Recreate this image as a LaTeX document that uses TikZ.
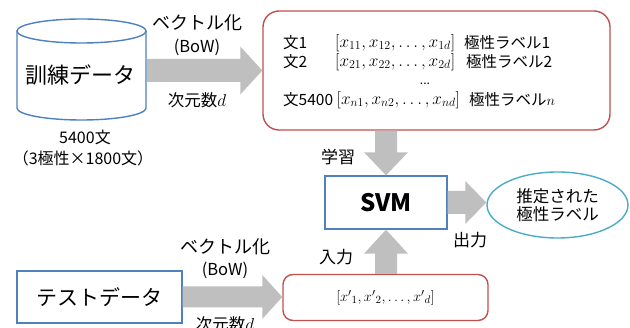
\documentclass[tikz,border=0pt]{standalone}
\usepackage{fontspec}
\setmainfont{Noto Sans CJK JP}
\usetikzlibrary{calc,shapes.geometric}
\definecolor{bblue}{HTML}{4F81BD}
\definecolor{rred}{HTML}{C0504D}
\definecolor{ccyan}{HTML}{4BACC6}
\definecolor{agray}{HTML}{BFBFBF}
\newcommand\blockarr[5]{% start, end, shaft half, head half, head length
  \coordinate (bh) at ($(#2)!#5!(#1)$);
  \fill[agray] ($(#1)!#3!90:(#2)$) -- ($(bh)!#3!90:(#2)$) -- ($(bh)!#4!90:(#2)$) -- (#2)
    -- ($(bh)!#4!-90:(#2)$) -- ($(bh)!#3!-90:(#2)$) -- ($(#1)!#3!-90:(#2)$) -- cycle;}
\newcommand\fs[1]{\fontsize{#1}{#1}\selectfont}
\begin{document}
\begin{tikzpicture}[x=1pt,y=-1pt,
  lbl/.style={inner sep=0pt,font=\fs{17}},
  rtext/.style={inner sep=0pt,anchor=west,font=\fs{15.5}},
  mtext/.style={inner sep=0pt,anchor=west,font=\fs{16.5}},
  bluebox/.style={draw=bblue,line width=1.4pt,minimum width=#1,inner sep=0pt},
  redbox/.style={draw=rred,line width=1.4pt,rounded corners=#1,inner sep=0pt}]
\useasboundingbox (0,0) rectangle (630,328);
% cylinder
\draw[bblue,line width=1.4pt,fill=white] (17,31) -- (17,108)
   arc[start angle=180,end angle=360,x radius=64.5pt,y radius=12pt] -- (146,31);
\draw[bblue,line width=1.4pt] (81.5,31) ellipse[x radius=64.5pt,y radius=12pt];
\node[inner sep=0pt,font=\fs{22}] (train) at (81,75) {訓練データ};
\coordinate (cylE) at (147,70.5);
\node[inner sep=0pt,font=\fs{16}] (n5400) at (85,137) {5400文};
\node[inner sep=0pt,font=\fs{16}] (n3pol) at (83,158) {（3極性×1800文）};
% top rect
\node[redbox=16pt,minimum width=347pt,minimum height=119pt] (toprect) at (436.5,70.5) {};
\node[rtext] (s1) at (283,43) {文1};
\node[mtext] (m1) at (335,43) {$[x_{11},x_{12},\ldots,x_{1d}]$};
\node[rtext] (p1) at (464,43) {極性ラベル1};
\node[rtext] (s2) at (283,62) {文2};
\node[mtext] (m2) at (335,62) {$[x_{21},x_{22},\ldots,x_{2d}]$};
\node[rtext] (p2) at (466,62) {極性ラベル2};
\node[inner sep=0pt,font=\fs{12}] (dots) at (425,84) {...};
\node[rtext] (s3) at (283,100) {文5400};
\node[mtext] (m3) at (336.5,100) {$[x_{n1},x_{n2},\ldots,x_{nd}]$};
\node[rtext] (p3) at (469,100) {極性ラベル$n$};
% arrow 1
\blockarr{cylE}{toprect.west}{11.5pt}{24pt}{22pt}
\node[lbl,font=\fs{18}] (v1) at (197,23) {ベクトル化};
\node[lbl,font=\fs{16.5}] (b1) at (197,47) {(BoW)};
\node[lbl,font=\fs{16.5}] (d1) at (197,100) {次元数$d$};
% SVM
\node[bluebox=122pt,minimum height=53pt,font=\fs{24}\bfseries] (svm) at (386,202.5) {SVM};
\blockarr{svm.north |- toprect.south}{svm.north}{11pt}{22pt}{23pt}
\node[lbl] (learn) at (338,157) {学習};
% ellipse
\node[ellipse,draw=ccyan,line width=1.4pt,minimum width=141pt,minimum height=66pt,inner sep=0pt,
  align=center,font=\fs{16.5}] (ell) at (557.5,205) {推定された\\[1pt]極性ラベル};
\blockarr{svm.east}{svm.east -| ell.west}{11.5pt}{21.5pt}{21pt}
\node[lbl] (out) at (470,240) {出力};
% bottom
\node[bluebox=165pt,minimum height=52pt,font=\fs{21}] (test) at (99.5,297) {テストデータ};
\node[redbox=10pt,minimum width=205pt,minimum height=46pt,font=\fs{15.5}] (botrect) at (385.5,297.5)
  {$[{x'}_1,{x'}_2,\ldots,{x'}_d]$};
\blockarr{test.east}{test.east -| botrect.west}{10.5pt}{22pt}{20pt}
\node[lbl,font=\fs{18}] (v2) at (225,247) {ベクトル化};
\node[lbl,font=\fs{16.5}] (b2) at (225,270) {(BoW)};
\node[lbl,font=\fs{16.5}] (d2) at (225,324) {次元数$d$};
\blockarr{svm.south |- botrect.north}{svm.south}{11pt}{22pt}{24pt}
\node[lbl] (inp) at (336,257) {入力};
\end{tikzpicture}
\end{document}
